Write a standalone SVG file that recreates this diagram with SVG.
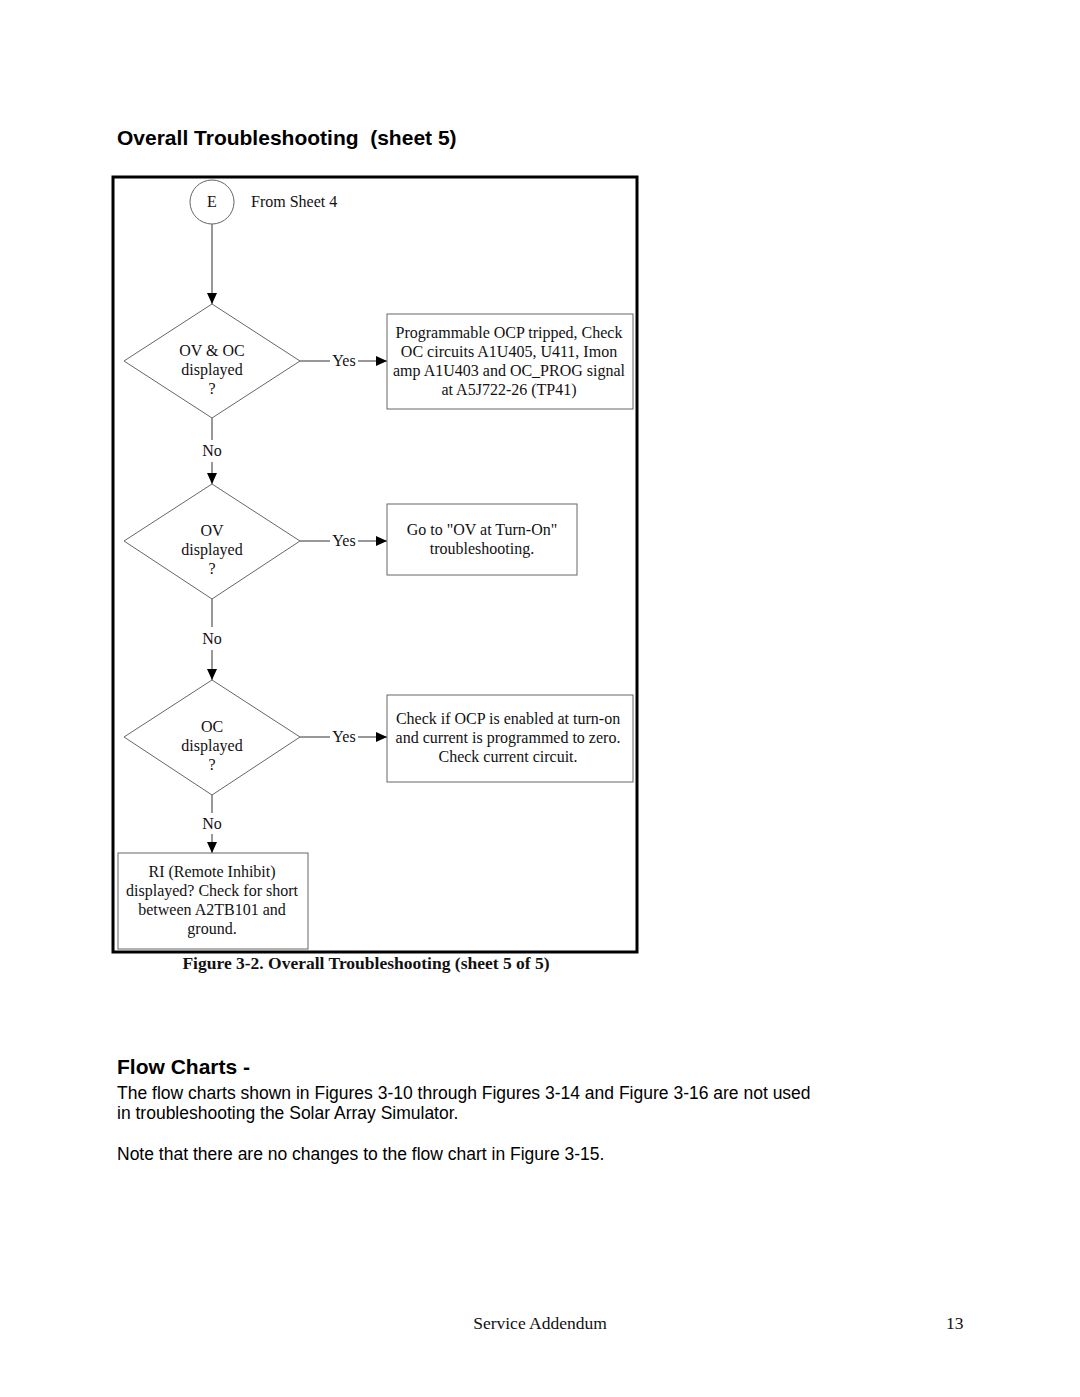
<svg xmlns="http://www.w3.org/2000/svg" width="1080" height="1397" viewBox="0 0 1080 1397">
<defs>
<marker id="ah" markerWidth="12" markerHeight="10" refX="11" refY="5" orient="auto" markerUnits="userSpaceOnUse">
<path d="M0,0 L11,5 L0,10 Z" fill="#000"/>
</marker>
<style>
.t{font-family:"Liberation Serif","Times New Roman",serif;font-size:16px;fill:#111;}
.c{text-anchor:middle;}
.shape{fill:#fff;stroke:#666;stroke-width:1;}
.ln{fill:none;stroke:#333;stroke-width:1;}
.h{font-family:"Liberation Sans",Arial,sans-serif;font-weight:bold;font-size:21px;fill:#000;}
.p{font-family:"Liberation Sans",Arial,sans-serif;font-size:17.5px;fill:#000;}
</style>
</defs>
<rect width="1080" height="1397" fill="#fff"/>
<text class="h" x="117" y="145" xml:space="preserve">Overall Troubleshooting  (sheet 5)</text>
<rect x="113" y="177" width="524" height="775" fill="none" stroke="#000" stroke-width="3"/>

<g id="connectors">
<line class="ln" x1="212" y1="224" x2="212" y2="304" marker-end="url(#ah)"/>
<line class="ln" x1="300" y1="361" x2="330" y2="361"/>
<line class="ln" x1="358" y1="361" x2="387" y2="361" marker-end="url(#ah)"/>
<text class="t c" x="344" y="366">Yes</text>
<line class="ln" x1="212" y1="418" x2="212" y2="440"/>
<text class="t c" x="212" y="456">No</text>
<line class="ln" x1="212" y1="462" x2="212" y2="484" marker-end="url(#ah)"/>
<line class="ln" x1="300" y1="541" x2="330" y2="541"/>
<line class="ln" x1="358" y1="541" x2="387" y2="541" marker-end="url(#ah)"/>
<text class="t c" x="344" y="546">Yes</text>
<line class="ln" x1="212" y1="599" x2="212" y2="627"/>
<text class="t c" x="212" y="644">No</text>
<line class="ln" x1="212" y1="650" x2="212" y2="680" marker-end="url(#ah)"/>
<line class="ln" x1="300" y1="737" x2="330" y2="737"/>
<line class="ln" x1="358" y1="737" x2="387" y2="737" marker-end="url(#ah)"/>
<text class="t c" x="344" y="742">Yes</text>
<line class="ln" x1="212" y1="795" x2="212" y2="813"/>
<text class="t c" x="212" y="829">No</text>
<line class="ln" x1="212" y1="834" x2="212" y2="853" marker-end="url(#ah)"/>
</g>

<g id="start">
<circle class="shape" cx="212" cy="202" r="22"/>
<text class="t c" x="212" y="207">E</text>
<text class="t" x="251" y="207">From Sheet 4</text>
</g>

<g id="d1">
<polygon class="shape" points="212,304 300,361 212,418 124,361"/>
<text class="t c" x="212" y="356">OV &amp; OC</text>
<text class="t c" x="212" y="375">displayed</text>
<text class="t c" x="212" y="394">?</text>
</g>
<g id="b1">
<rect class="shape" x="387" y="314" width="246" height="95"/>
<text class="t c" x="509" y="338">Programmable OCP tripped, Check</text>
<text class="t c" x="509" y="357">OC circuits A1U405, U411, Imon</text>
<text class="t c" x="509" y="376">amp A1U403 and OC_PROG signal</text>
<text class="t c" x="509" y="395">at A5J722-26 (TP41)</text>
</g>

<g id="d2">
<polygon class="shape" points="212,484 300,541 212,599 124,541"/>
<text class="t c" x="212" y="536">OV</text>
<text class="t c" x="212" y="555">displayed</text>
<text class="t c" x="212" y="574">?</text>
</g>
<g id="b2">
<rect class="shape" x="387" y="504" width="190" height="71"/>
<text class="t c" x="482" y="535">Go to "OV at Turn-On"</text>
<text class="t c" x="482" y="554">troubleshooting.</text>
</g>

<g id="d3">
<polygon class="shape" points="212,680 300,737 212,795 124,737"/>
<text class="t c" x="212" y="732">OC</text>
<text class="t c" x="212" y="751">displayed</text>
<text class="t c" x="212" y="770">?</text>
</g>
<g id="b3">
<rect class="shape" x="387" y="695" width="246" height="87"/>
<text class="t c" x="508" y="724">Check if OCP is enabled at turn-on</text>
<text class="t c" x="508" y="743">and current is programmed to zero.</text>
<text class="t c" x="508" y="762">Check current circuit.</text>
</g>

<g id="b4">
<rect class="shape" x="118" y="853" width="190" height="96"/>
<text class="t c" x="212" y="877">RI (Remote Inhibit)</text>
<text class="t c" x="212" y="896">displayed? Check for short</text>
<text class="t c" x="212" y="915">between A2TB101 and</text>
<text class="t c" x="212" y="934">ground.</text>
</g>

<text class="t c" x="366" y="969" style="font-weight:bold;font-size:17.5px">Figure 3-2. Overall Troubleshooting (sheet 5 of 5)</text>

<text class="h" x="117" y="1074">Flow Charts -</text>
<text class="p" x="117" y="1099">The flow charts shown in Figures 3-10 through Figures 3-14 and Figure 3-16 are not used</text>
<text class="p" x="117" y="1119">in troubleshooting the Solar Array Simulator.</text>
<text class="p" x="117" y="1160">Note that there are no changes to the flow chart in Figure 3-15.</text>

<text class="t c" x="540" y="1329" style="font-size:17.5px">Service Addendum</text>
<text class="t" x="946" y="1329" style="font-size:17.5px">13</text>
</svg>
